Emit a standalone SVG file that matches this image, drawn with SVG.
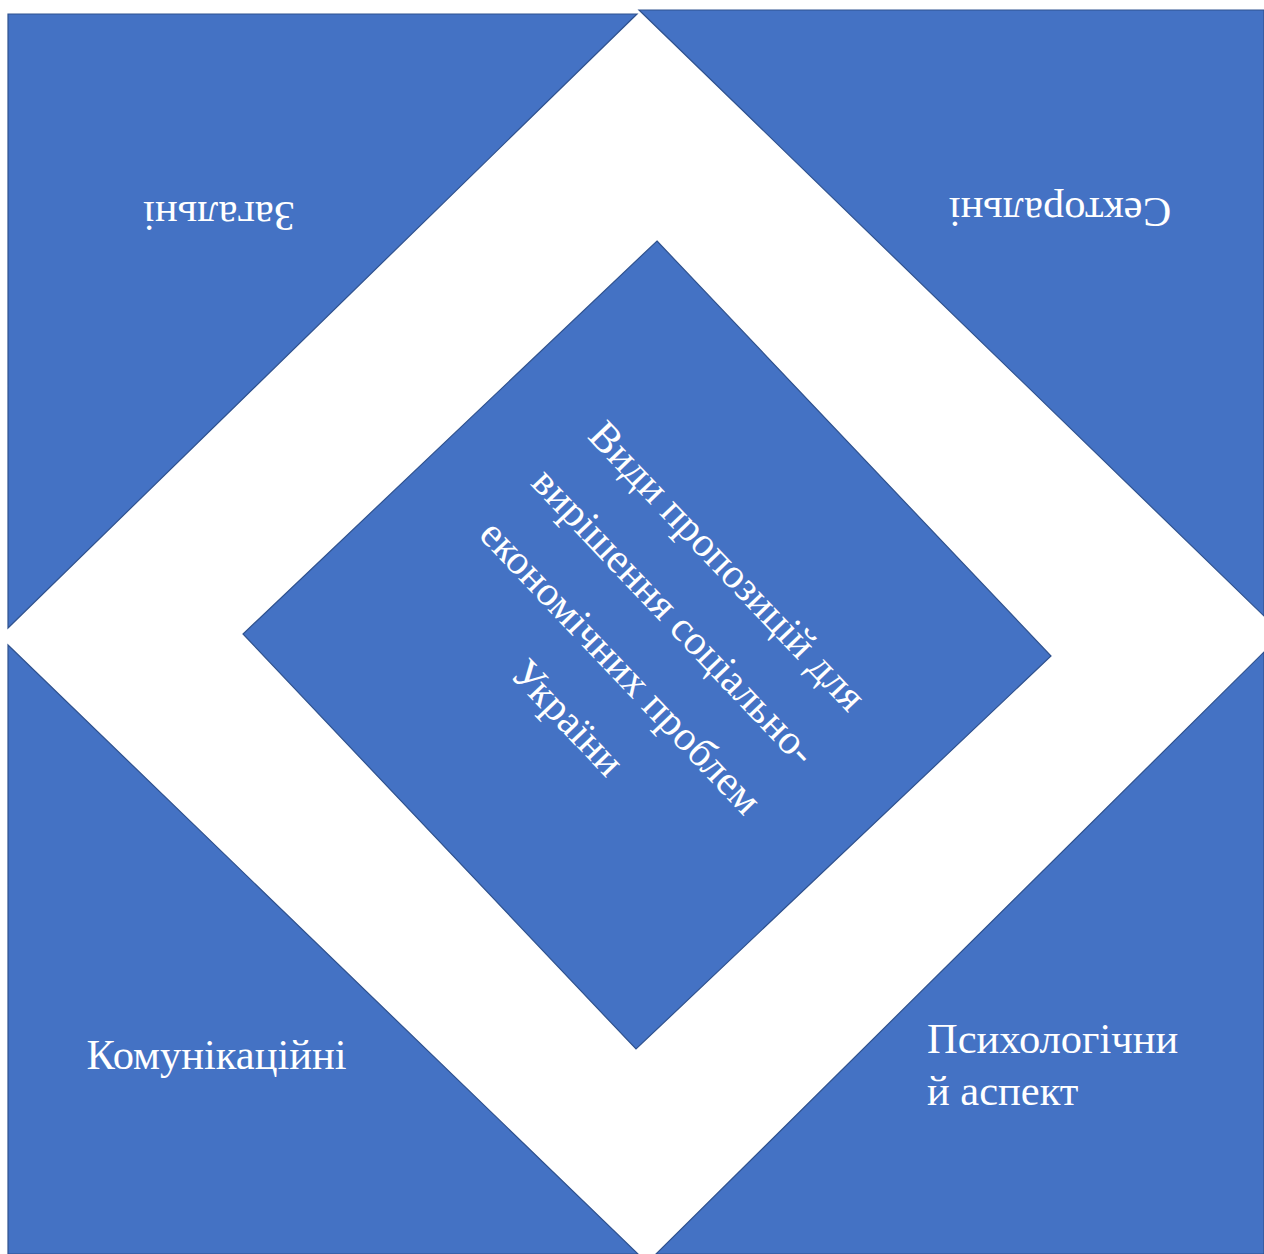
<svg xmlns="http://www.w3.org/2000/svg" width="1264" height="1254" viewBox="0 0 1264 1254">
<style>
.shape{fill:#4472C4;stroke:#2F528F;stroke-width:1.2}
.lbl{font-family:"Liberation Serif","Times New Roman",serif;fill:#FFFFFF}
.corner{font-size:42.5px}
.mid{font-size:42px}
</style>
<rect x="0" y="0" width="1264" height="1254" fill="#FFFFFF"/>
<g id="node-zagalni">
<polygon class="shape" points="8,14 637,14 8,628"/>
<text class="lbl corner" text-anchor="middle" transform="translate(219,202) rotate(180)">Загальні</text>
</g>
<g id="node-sektoralni">
<polygon class="shape" points="639,10 1264,10 1264,616"/>
<text class="lbl corner" text-anchor="middle" transform="translate(1060,198) rotate(180)">Секторальні</text>
</g>
<g id="node-komunikatsiini">
<polygon class="shape" points="8,645 638,1254 8,1254"/>
<text class="lbl corner" text-anchor="middle" x="216.5" y="1069">Комунікаційні</text>
</g>
<g id="node-psykholohichnyi">
<polygon class="shape" points="1264,652 1264,1254 656,1254"/>
<text class="lbl corner" x="927" y="1053">Психологічни</text>
<text class="lbl corner" x="927" y="1105">й аспект</text>
</g>
<g id="node-center">
<polygon class="shape" points="657,241 1051,656 636,1049 243,634"/>
<g transform="translate(647,645) rotate(46.5)">
<text class="lbl mid" text-anchor="middle" x="-2" y="-99">Види пропозицій для</text>
<text class="lbl mid" text-anchor="middle" x="-2" y="-25.6">вирішення соціально-</text>
<text class="lbl mid" text-anchor="middle" x="-2" y="47.8">економічних проблем</text>
<text class="lbl mid" text-anchor="middle" x="-2" y="121.2">України</text>
</g>
</g>
<g id="connectors"></g>
</svg>
